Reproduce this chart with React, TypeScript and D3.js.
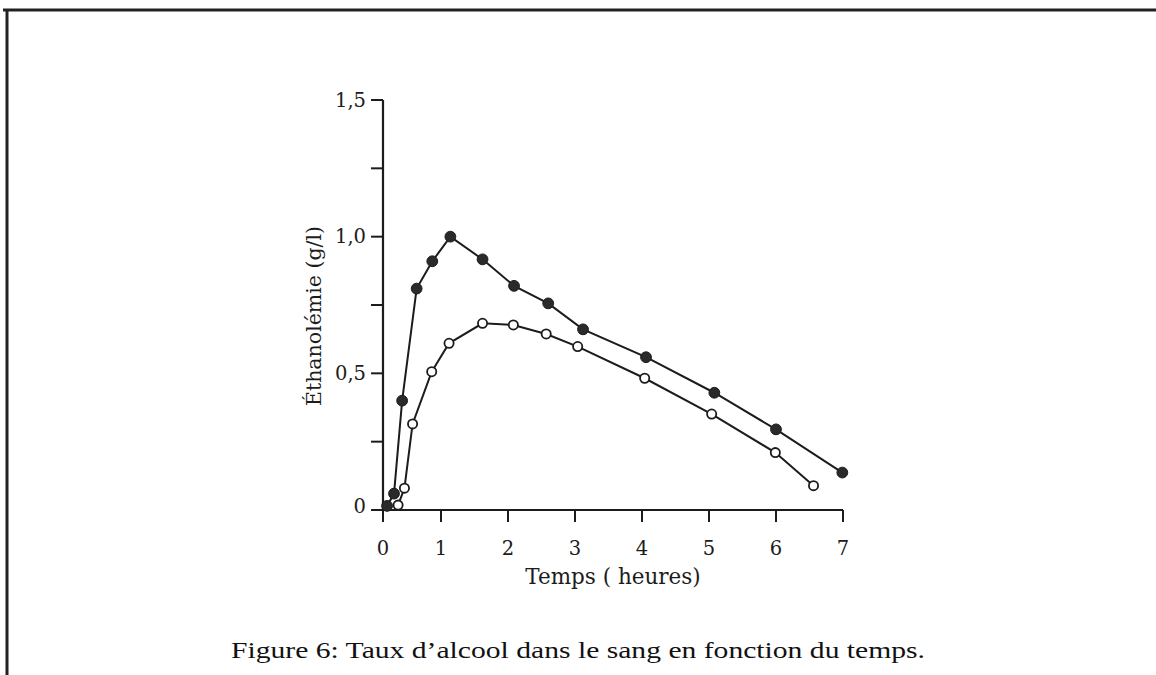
import * as d3 from 'd3'

// time (hours) and blood alcohol (g/l)
const filledTime = [0.07, 0.19, 0.33, 0.58, 0.85, 1.14, 1.62, 2.09, 2.6, 3.12, 4.06, 5.08, 6.0, 6.99]
const filledLevel = [0.015, 0.06, 0.4, 0.81, 0.91, 1.0, 0.917, 0.82, 0.756, 0.661, 0.559, 0.429, 0.295, 0.137]
const openTime = [0.26, 0.37, 0.51, 0.84, 1.12, 1.62, 2.08, 2.57, 3.04, 4.04, 5.04, 5.99, 6.56]
const openLevel = [0.018, 0.08, 0.315, 0.506, 0.61, 0.683, 0.677, 0.644, 0.598, 0.482, 0.351, 0.21, 0.089]

const xTicks = [0, 1, 2, 3, 4, 5, 6, 7]
const yTicks = [0, 0.5, 1, 1.5]
const yTickLabels = ['0', '0,5', '1,0', '1,5']
const yMinorTicks = [0.25, 0.75, 1.25]

const W = 1156
const H = 675
const ink = '#1c1c1c'
const chartFont = '"DejaVu Serif", "Liberation Serif", serif'
const captionFont = '"Liberation Serif", "DejaVu Serif", serif'

// the scanned axis is slightly stretched after 1 h, hence the piecewise domain
const xScale = d3.scaleLinear().domain([0, 1, 7]).range([383, 441, 843])
const yScale = d3.scaleLinear().domain([0, 1.5]).range([510, 100])

const toPoints = (ts, vs) => ts.map((t, i) => ({ t, v: vs[i] }))
const filled = toPoints(filledTime, filledLevel)
const open = toPoints(openTime, openLevel)

const lineGenerator = d3
  .line()
  .x(d => xScale(d.t))
  .y(d => yScale(d.v))

export default function App() {
  const x0 = xScale(0)
  const y0 = yScale(0)

  return (
    <svg
      width={W}
      height={H}
      viewBox={`0 0 ${W} ${H}`}
      style={{ position: 'absolute', top: 0, left: 0, background: '#fff' }}
    >
      {/* page frame */}
      <line x1={3} x2={W} y1={10} y2={10} stroke="#222" strokeWidth={3} />
      <line x1={7} x2={7} y1={9} y2={H} stroke="#222" strokeWidth={3} />

      {/* axes */}
      <line x1={x0} x2={x0} y1={yScale(1.5)} y2={y0 + 1} stroke={ink} strokeWidth={2.2} />
      <line x1={x0 - 1} x2={xScale(7)} y1={y0} y2={y0} stroke={ink} strokeWidth={2.2} />

      {yTicks.map((v, i) => (
        <g key={v} transform={`translate(${x0}, ${yScale(v)})`}>
          <line x1={-12} x2={0} stroke={ink} strokeWidth={2} />
          <text
            x={-17}
            y={v === 0 ? -4 : 0}
            dy="0.35em"
            textAnchor="end"
            fontFamily={chartFont}
            fontSize={19.5}
            fill={ink}
          >
            {yTickLabels[i]}
          </text>
        </g>
      ))}
      {yMinorTicks.map(v => (
        <line
          key={v}
          x1={x0 - 12}
          x2={x0}
          y1={yScale(v)}
          y2={yScale(v)}
          stroke={ink}
          strokeWidth={2}
        />
      ))}

      {xTicks.map(t => (
        <g key={t} transform={`translate(${xScale(t)}, ${y0})`}>
          <line y1={0} y2={12} stroke={ink} strokeWidth={2} />
          <text
            y={45}
            textAnchor="middle"
            fontFamily={chartFont}
            fontSize={19.5}
            fill={ink}
          >
            {t}
          </text>
        </g>
      ))}

      <text
        x={613}
        y={584}
        textAnchor="middle"
        fontFamily={chartFont}
        fontSize={21.5}
        fill={ink}
      >
        Temps ( heures)
      </text>
      <text
        transform="translate(321, 316) rotate(-90)"
        textAnchor="middle"
        fontFamily={chartFont}
        fontSize={20.5}
        fill={ink}
      >
        Éthanolémie (g/l)
      </text>

      {/* series */}
      <path d={lineGenerator(open)} fill="none" stroke={ink} strokeWidth={2} />
      <path d={lineGenerator(filled)} fill="none" stroke={ink} strokeWidth={2} />
      {open.map(d => (
        <circle
          key={`o${d.t}`}
          cx={xScale(d.t)}
          cy={yScale(d.v)}
          r={4.6}
          fill="#fff"
          stroke={ink}
          strokeWidth={1.8}
        />
      ))}
      {filled.map(d => (
        <circle
          key={`f${d.t}`}
          cx={xScale(d.t)}
          cy={yScale(d.v)}
          r={5.4}
          fill="#2a2a2a"
          stroke={ink}
          strokeWidth={1}
        />
      ))}

      {/* caption */}
      <text
        x={578}
        y={658}
        textAnchor="middle"
        fontFamily={captionFont}
        fontSize={23}
        fill="#111"
        textLength={694}
        lengthAdjust="spacingAndGlyphs"
      >
        Figure 6: Taux d’alcool dans le sang en fonction du temps.
      </text>
    </svg>
  )
}
